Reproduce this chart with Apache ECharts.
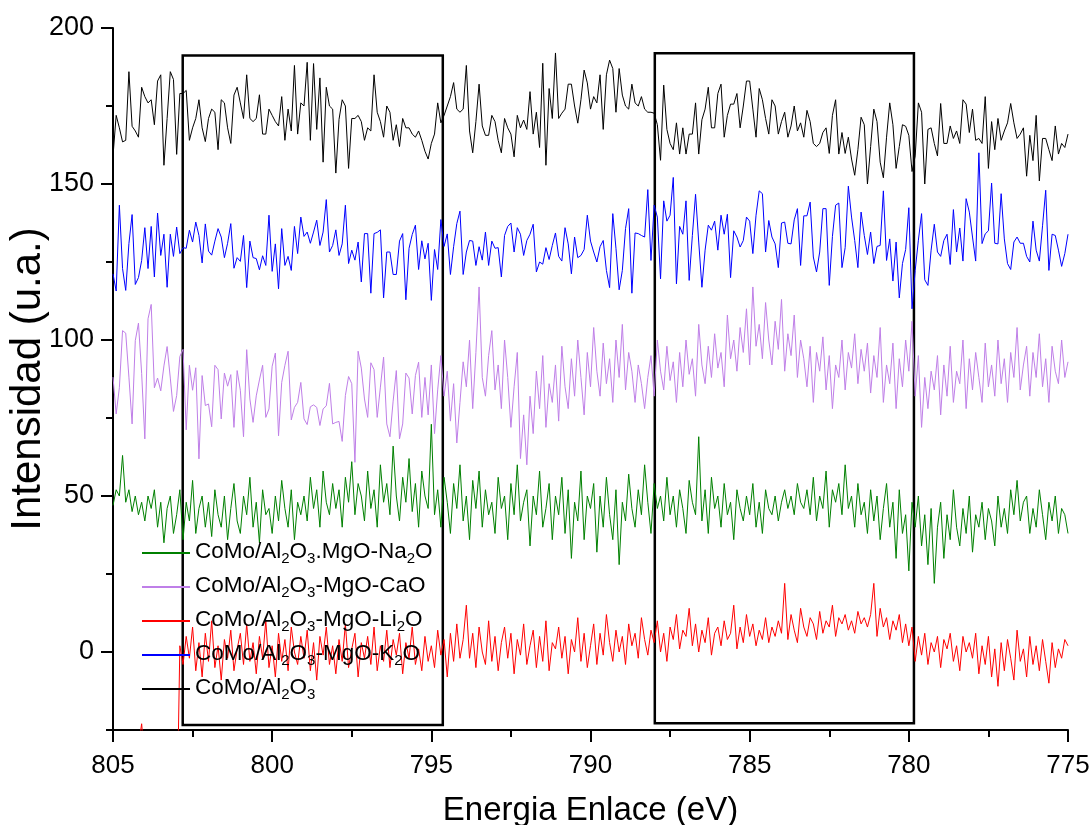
<!DOCTYPE html>
<html><head><meta charset="utf-8">
<script src="https://cdn.jsdelivr.net/npm/echarts@6/dist/echarts.min.js"></script>
<style>html,body{margin:0;padding:0;background:#fff}#c{width:1091px;height:825px}</style>
</head><body><div id="c"></div>
<script>
// Energy axis sampling (eV): first point and step
const energyStart = 805;
const energyStep = -0.1;

const xTicks = [805, 800, 795, 790, 785, 780, 775];
const yMajorTicks = [0, 50, 100, 150, 200];
const yMinorTicks = [-25, 25, 75, 125, 175];

const seriesNames = [
  'CoMo/Al2O3.MgO-Na2O',
  'CoMo/Al2O3-MgO-CaO',
  'CoMo/Al2O3-MgO-Li2O',
  'CoMo/Al2O3-MgO-K2O',
  'CoMo/Al2O3'
];
const legendLabels = [
  '{m|CoMo/Al}{s|2}{m|O}{s|3}{m|.MgO-Na}{s|2}{m|O}',
  '{m|CoMo/Al}{s|2}{m|O}{s|3}{m|-MgO-CaO}',
  '{m|CoMo/Al}{s|2}{m|O}{s|3}{m|-MgO-Li}{s|2}{m|O}',
  '{m|CoMo/Al}{s|2}{m|O}{s|3}{m|-MgO-K}{s|2}{m|O}',
  '{m|CoMo/Al}{s|2}{m|O}{s|3}'
];

// rectangles highlighted on the plot: [x1, x2, yTop, yBottom]
const box1 = [802.81, 794.64, 191.2, -23.4];
const box2 = [787.98, 779.84, 191.9, -22.8];

const black = [
159,172,168,163.5,164,186,168.5,167,165,181,
178,176,177,169,183,185,156,171,186,183.5,
159.5,179,179,180,164,168,171,177,168,163.6,
171,174,173,161,177,176,168,163,178.5,181,
176,171,185,171,170,171,178.6,166,166,174,
172,170,168.6,178,164,174,167,188,166,176,
175,189,164,188.6,167.5,184,157,181,175,174,
153.5,170.7,177,175,155,171,171,172,170,164,
168,167,185,173,170,165,175,173,164,169,
162,171,168,168,166,165,167,164,160.5,158,
163,166,176,169.6,172,175,178,182.5,174,173,
174,188,167,160,170,182,168.6,165.6,165.6,172,
170,164,160,171,168,166,158.7,172,168,170.5,
167.5,179.6,166,173,161.7,188.7,156,180.6,171,192,
171,172.7,174,182,182,175,169.5,177,186.5,182.4,
174,178,176,185,167.5,185,189.7,187,173,187,
178.5,175,174,182,176,175,178,174,173,173,
172.7,169,157.6,181.7,167.5,163,161,169.6,159.6,168,
159.6,166,166,176,159.6,170.6,174,181,168,168,
179,182,165,172,175.6,175.6,179,168,175,183,
183,174,165,180.6,177,171,166,177,175,166,
170,173,165,168.6,175,167,169.6,165,173.6,170,
163,162,163,166.5,168,159.8,172,177,159.6,166.5,
159.8,165,158,152.8,161,171.4,169,150,162,174,
170,157,152,165,176,169,155,162,169,168.5,
165.6,154,159,176,173,150,167.5,168,163,159,
175.8,163,163,168.6,164.6,167,163,177,175.6,166.5,
174,164,164.6,163,178,155,170,161,171,164,
167,169.6,175.8,169.6,164.6,166,168,152.5,165.6,157.5,
172,151,164.6,164.6,161,157.5,168.6,159.6,163,161.7,
166
];

const blue = [
121.2,115.7,143.2,122.9,115.9,130.9,140.2,117.8,120,125.5,
136,122.9,136.4,120.2,140.7,127.1,133.9,116.9,133.9,126.8,
136.2,127.7,129.6,129.4,135.2,131.4,137.8,133.5,124.7,137.2,
128.5,127.2,131.7,135.7,133,126.4,131,137.3,123,126.4,
125.2,133.5,116.8,131.7,126.4,126.1,122.5,127,123.9,140,
122,130.8,116.4,135.7,123.9,126.8,122.3,136.4,127.7,139.4,
133.2,134.6,131,134.6,138.4,130.3,134.6,145,128.2,130.3,
135.3,127.1,130.8,143.2,124.5,128.8,125.6,131.4,118.6,134.1,
134.1,115,134.1,134.5,135.3,113.5,128.2,128.2,121,121,
131.7,134.1,112.9,129.4,133.8,136.8,122.6,131.8,126,131,
112.7,129,122.6,138.6,130,134,121,129.9,137.3,141.3,
121,128.2,131.9,131.7,123.9,129.9,125.6,134.6,123.9,131.7,
129.4,129.6,120.2,133.5,136.4,137.5,128.2,136,133.9,127.1,
131.9,133.9,137.1,121.8,125,124.3,129.6,125.8,130.3,134.3,
126.8,125.3,136,130.8,121.2,133,126.4,127.1,129,140,
131.7,128.2,125,129.9,131.9,122.3,116.8,140.5,129.4,116.1,
122.3,135.7,142.1,115,134.3,134.1,133.5,133,148.2,125.5,
143.2,139.4,119.6,144.6,138.1,140,152.1,118,136.4,133.9,
144.6,119.1,133.5,146.7,131.4,116.9,128.8,136.8,135.2,138.1,
128.8,140,133.9,140.3,120,135,133,129.8,131.9,139.4,
138.1,127.7,140,147.8,146.9,128.2,138.3,133,130.8,123.2,
137.5,137.8,131,130.8,138.5,142.1,123.9,139.8,139.8,144.2,
126.6,121.8,128.2,142.1,142.1,117.5,133.2,143.2,143.9,123.2,
129.6,149.3,139.4,131.9,123.2,141,133.5,127.4,134.6,124.5,
130,130.3,147.8,125.5,132.4,118.9,131.4,113.5,124.5,129,
142.4,110,122.3,132,140.5,119.3,117.5,128.8,137.1,128.2,
126.8,131.9,133.9,124.2,141.8,128.2,135.9,125.3,145.3,141,
133,125.3,160,130.9,134,135,150.3,131,130.8,146.9,
132.4,124.5,122.6,131.4,133,131,131,126.8,125,138.1,
128.8,125.3,136.6,148,122.3,133.9,133.5,128.8,123.6,127.7,
133.9
];

const violet = [
88.1,76.3,84.7,103,102.2,88.1,73.1,99.8,105.4,89.3,
68.3,106.8,111.4,84.7,87.8,83.7,91.7,97.9,87.8,77.1,
82.2,94.7,97,71.2,91.9,83.9,91.1,61.9,88.6,79,
79.5,72.2,91.9,90.5,74.7,89.4,85.2,88.9,72,90.2,
83.9,69,96.9,81.1,73.6,82.1,87.2,91.9,75.2,77.9,
91.6,95.8,69.3,86.4,91.9,96.4,74.4,78.4,80,86.4,
74.7,72.9,78.6,79.2,78.4,72.6,77.9,78.9,86.1,73.1,
73.6,73.9,67.5,82.2,88.3,86,60.8,96.4,91,81.1,
75.2,92.7,90.5,75.2,84.9,94.5,73.1,69,80.4,90.2,
68.3,73.1,89.4,87.8,76.3,88.6,92.9,75.2,
88,76,92,70,84,95,82,90,74,86,
67,80,93,85,100,78,96,117,88,82,
95,103,84,92,78,100,88,72,85,96,
62,76,60,82,70,90,78,95,72,86,
80,92,74,98,85,78,94,82,100,88,
76,96,85,104,90,82,99,86,94,80,
100,88,105,84,96,90,80,92,86,78,
88,95,82,100,90,84,98,87,93,80,
96,85,100,89,94,82,105,92,86,98,
88,102,91,96,85,108,94,100,90,104,
96,110,92,117,98,105,94,112,100,92,
106,97,113,90,102,95,108,88,100,94,
85,98,80,96,90,101,84,95,78,92,
88,100,84,96,91,102,86,97,90,99,
83,95,88,104,80,92,86,99,78,94,
85,100,90,106,82,95,72,88,78,90,
84,95,76,92,82,98,80,90,86,100,
78,94,84,96,88,80,99,85,92,82,
100,86,94,80,96,88,104,84,92,98,
82,96,88,102,85,94,80,98,90,86,
100,88,93
];

const green = [
47,52,50,63,48,52,45,50,44,48,
42,50,46,52,40,48,35,46,50,38,
44,52,36,48,42,55,38,46,50,40,
48,37,52,44,40,50,36,46,54,42,
38,50,44,56,40,48,35,52,44,46,
38,50,42,55,46,40,52,36,48,44,
50,42,56,46,52,40,58,48,44,54,
46,52,40,56,48,61,44,54,50,42,
58,46,52,40,60,48,54,44,66,50,
42,56,48,62,45,54,40,58,50,46,
73,44,52,40,56,48,38,54,46,60,
42,50,36,55,46,58,40,52,44,48,
38,56,46,50,36,54,44,60,42,48,
52,34,50,44,58,40,46,54,36,50,
44,56,38,52,30,48,42,58,36,50,
46,54,32,50,40,56,44,36,52,28,
48,42,57,46,40,52,44,60,48,38,
54,46,50,42,56,44,50,40,52,46,
38,55,48,44,69,42,52,38,56,46,
50,40,54,44,48,36,52,46,42,50,
44,54,40,48,38,52,46,44,50,42,
48,52,46,50,44,54,48,46,52,44,
56,42,50,46,58,40,52,48,54,44,
60,46,50,40,54,44,48,38,52,42,
50,36,46,54,40,48,30,52,38,44,
26,48,40,50,34,44,28,46,22,40,
48,30,44,36,52,40,34,46,38,50,
32,44,40,48,36,46,42,34,50,40,
46,38,52,44,55,42,48,50,38,46,
40,52,44,36,48,42,50,38,46,44,
38
];

const red = [
-45,-42,-38,-44,-40,-36,-41,-34,-30,-23,
-35,-40,-44,-38,-42,-46,-40,-37,-43,-48,
-60,2,-4,5,-2,8,-6,3,-8,6,
-3,10,-5,2,-9,4,-2,7,-6,1,
6,-4,9,-3,3,-7,5,-2,10,-5,
2,-8,6,-3,4,-6,8,0,-4,5,
-2,7,-6,3,-9,5,-1,8,-4,2,
-7,4,-3,9,-5,1,6,-8,3,-2,
5,-4,8,-6,2,-3,7,-5,4,-1,
6,-7,3,-2,8,-4,1,-6,5,-3,
2,-5,7,-1,4,-8,6,-3,9,-2,
4,15,-2,6,-5,8,0,-4,10,-3,
5,-6,3,8,-2,6,-7,4,-1,9,
-4,2,7,-5,5,-3,10,-6,3,1,
8,-2,5,-7,4,0,11,-3,6,-5,
2,9,-4,6,-1,12,3,-3,7,0,
5,-4,9,2,6,-2,11,4,-1,7,
3,10,0,6,-3,8,4,12,1,7,
5,14,2,9,0,7,3,11,-1,6,
8,2,10,4,6,15,1,8,3,12,
5,9,2,7,4,11,3,8,5,10,
6,22,4,12,7,3,14,8,5,11,
9,4,13,6,10,8,15,5,11,9,
12,7,10,6,13,9,11,8,12,22,
5,14,8,11,4,10,7,12,3,9,
2,8,-3,5,-1,6,-4,3,0,5,
-5,4,1,6,-3,2,-6,5,0,3,
-2,6,-7,2,-4,5,-8,1,-11,3,
-6,4,-2,-9,7,-3,1,-8,5,-4,
2,-6,4,-3,-10,3,-5,1,-2,4,
2
];

function toPairs(values) {
  return values.map((v, i) => [+(energyStart + energyStep * i).toFixed(2), v]);
}

const colors = ['#008000', '#bf7fe8', '#ff0000', '#0000ff', '#000000'];
const dataSets = [green, violet, red, blue, black];
const FONT = 'Liberation Sans, Arial, sans-serif';

const chart = echarts.init(document.getElementById('c'));
const series = seriesNames.map((name, k) => ({
  name: name,
  type: 'line',
  data: toPairs(dataSets[k]),
  symbol: 'none',
  clip: true,
  lineStyle: { width: 1, color: colors[k] },
  itemStyle: { color: colors[k] },
  animation: false,
  z: 2
}));
series[4].markArea = {
  silent: true,
  itemStyle: { color: 'rgba(0,0,0,0)', borderColor: '#000', borderWidth: 2.5 },
  data: [
    [{ xAxis: box1[0], yAxis: box1[2] }, { xAxis: box1[1], yAxis: box1[3] }],
    [{ xAxis: box2[0], yAxis: box2[2] }, { xAxis: box2[1], yAxis: box2[3] }]
  ]
};

chart.setOption({
  animation: false,
  backgroundColor: '#fff',
  grid: { left: 113, right: 23, top: 28, bottom: 95, containLabel: false, outerBoundsMode: 'none' },
  legend: {
    orient: 'vertical',
    left: 142,
    top: 536,
    padding: 0,
    itemWidth: 48,
    itemHeight: 2,
    itemGap: 4,
    icon: 'rect',
    data: seriesNames,
    formatter: function (name) { return legendLabels[seriesNames.indexOf(name)]; },
    textStyle: {
      fontFamily: FONT,
      fontSize: 22.5,
      color: '#000',
      rich: {
        m: { fontFamily: FONT, fontSize: 22.5, lineHeight: 26, verticalAlign: 'top', color: '#000' },
        s: { fontFamily: FONT, fontSize: 15, lineHeight: 15, verticalAlign: 'bottom', padding: [15, 0, 0, 0], color: '#000' }
      }
    }
  },
  xAxis: {
    type: 'value',
    inverse: true,
    min: 775,
    max: 805,
    interval: 5,
    name: 'Energia Enlace (eV)',
    nameLocation: 'middle',
    nameGap: 64,
    nameMoveOverlap: false,
    nameTextStyle: { fontFamily: FONT, fontSize: 33, color: '#000' },
    axisLine: { show: true, onZero: false, lineStyle: { color: '#000', width: 2 } },
    axisTick: { show: true, length: 12, lineStyle: { color: '#000', width: 2 } },
    minorTick: { show: true, splitNumber: 2, length: 7, lineStyle: { color: '#000', width: 2 } },
    splitLine: { show: false },
    minorSplitLine: { show: false },
    axisLabel: { margin: 23, fontFamily: FONT, fontSize: 26, color: '#000', customValues: xTicks }
  },
  yAxis: [{
    type: 'value',
    min: -25,
    max: 200,
    name: 'Intensidad (u.a.)',
    nameLocation: 'middle',
    nameGap: 64,
    nameMoveOverlap: false,
    nameRotate: 90,
    nameTextStyle: { fontFamily: FONT, fontSize: 42, color: '#000' },
    axisLine: { show: true, onZero: false, lineStyle: { color: '#000', width: 2 } },
    axisTick: { show: true, length: 12, customValues: yMajorTicks, lineStyle: { color: '#000', width: 2 } },
    splitLine: { show: false },
    axisLabel: { margin: 19, fontFamily: FONT, fontSize: 27, color: '#000', customValues: yMajorTicks }
  }, {
    type: 'value',
    min: -25,
    max: 200,
    position: 'left',
    offset: 0,
    axisLine: { show: false },
    axisTick: { show: true, length: 7, customValues: yMinorTicks, lineStyle: { color: '#000', width: 2 } },
    axisLabel: { show: false },
    splitLine: { show: false }
  }],
  series: series
});
</script></body></html>
